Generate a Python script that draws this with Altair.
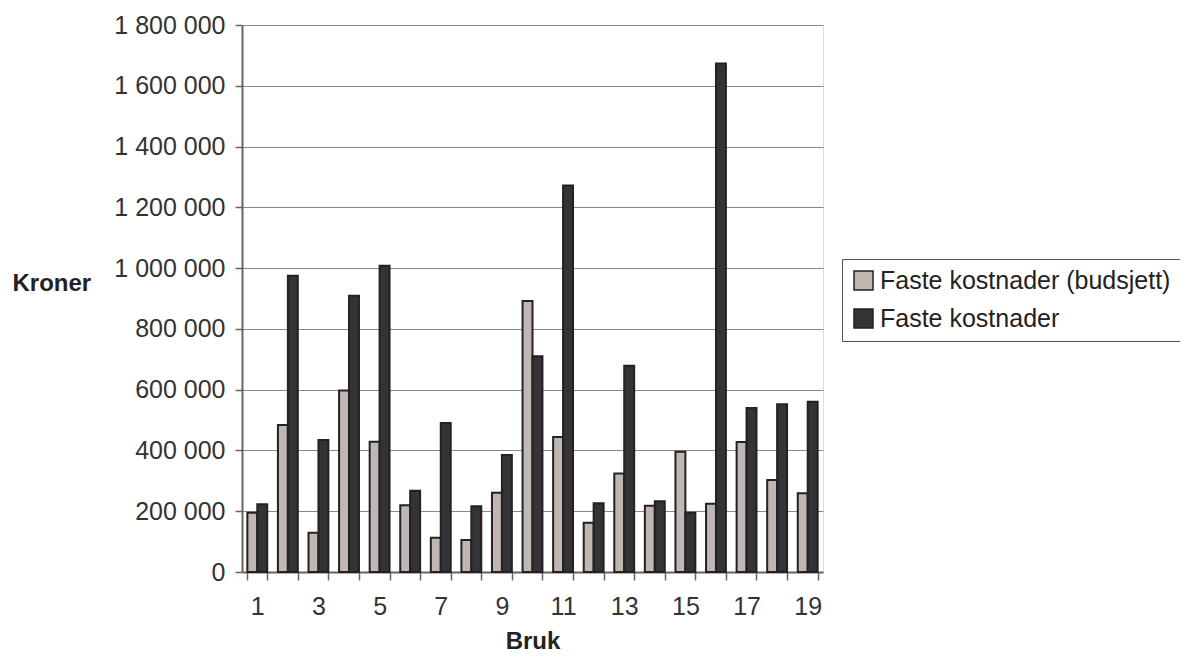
import altair as alt
import pandas as pd

bruk = list(range(1, 20))
budsjett = [195000, 484000, 129000, 597000, 429000, 220000, 113000, 105000, 261000, 892000,
            444000, 162000, 324000, 218000, 396000, 225000, 428000, 303000, 259000]
faktisk = [223000, 975000, 434000, 909000, 1008000, 267000, 490000, 216000, 385000, 710000,
           1272000, 226000, 679000, 233000, 195000, 1673000, 540000, 552000, 560000]
serier = ["Faste kostnader (budsjett)", "Faste kostnader"]
farger = ["#c0b6b2", "#333338"]
y_ticks = [0, 200000, 400000, 600000, 800000, 1000000, 1200000, 1400000, 1600000, 1800000]

rows = []
for b, v1, v2 in zip(bruk, budsjett, faktisk):
    rows.append({"Bruk": b, "Serie": serier[0], "Kroner": v1})
    rows.append({"Bruk": b, "Serie": serier[1], "Kroner": v2})
df = pd.DataFrame(rows)

FONT = "Liberation Sans"

chart = alt.Chart(df).mark_bar(stroke="#222222", strokeWidth=2).encode(
    x=alt.X("Bruk:O",
            scale=alt.Scale(paddingInner=0.35, paddingOuter=0.175),
            axis=alt.Axis(title="Bruk", labelAngle=0, tickBand="extent",
                          labelExpr="datum.value % 2 == 1 ? datum.label : ''",
                          labelFontSize=25, labelColor="#333333", labelPadding=14,
                          labelFont=FONT,
                          tickSize=8, tickColor="#6a6262", tickWidth=1.5,
                          domainColor="#6a6262", domainWidth=2,
                          titleFontSize=24, titleFontWeight="bold", titleColor="#222222",
                          titleFont=FONT, titleY=69, titleBaseline="middle")),
    xOffset=alt.XOffset("Serie:N", sort=serier, scale=alt.Scale(domain=serier, paddingInner=0, paddingOuter=0)),
    y=alt.Y("Kroner:Q",
            scale=alt.Scale(domain=[0, 1800000], nice=False),
            axis=alt.Axis(title="Kroner", values=y_ticks,
                          labelExpr="replace(format(datum.value, ','), regexp(',', 'g'), ' ')",
                          labelFontSize=25, labelColor="#333333", labelPadding=10,
                          labelFont=FONT,
                          tickSize=7, tickColor="#6a6262", tickWidth=1.5,
                          domainColor="#6a6262", domainWidth=2,
                          grid=True, gridColor="#8a8a8a", gridWidth=1,
                          titleAngle=0, titleAlign="left", titleBaseline="middle",
                          titleX=-230, titleY=258,
                          titleFontSize=24, titleFontWeight="bold", titleColor="#222222",
                          titleFont=FONT)),
    fill=alt.Fill("Serie:N", sort=serier,
                  scale=alt.Scale(domain=serier, range=farger),
                  legend=alt.Legend(title=None, orient="none", legendX=600, legendY=234,
                                    symbolType="square", symbolSize=361,
                                    symbolStrokeColor="#222222", symbolStrokeWidth=1.5,
                                    symbolOpacity=1,
                                    labelFontSize=25, labelColor="#222222", labelFont=FONT,
                                    labelOffset=4, rowPadding=12, padding=9,
                                    strokeColor="#555555", fillColor="#ffffff",
                                    labelLimit=600)),
).properties(
    width=581,
    height=547,
    autosize=alt.AutoSizeParams(type="none"),
    padding={"left": 234, "top": 17, "right": 357, "bottom": 84},
).configure_view(
    stroke="#9a8e8a", strokeWidth=2.5
).configure(
    font=FONT, background="#ffffff"
)

chart.save("out.html", embed_options={"renderer": "svg", "actions": False})
